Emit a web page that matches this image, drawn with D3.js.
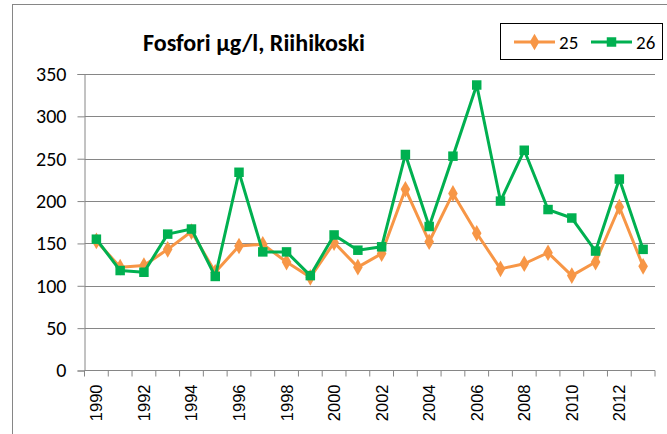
<!DOCTYPE html>
<html>
<head>
<meta charset="utf-8">
<script src="https://cdn.jsdelivr.net/npm/d3@7"></script>
<style>
  body { margin: 0; background: #fff; }
  svg { display: block; }
</style>
</head>
<body>
<svg id="chart"></svg>
<script>
// chart size
var width = 667;
var height = 434;

// data
const years = d3.range(1990, 2014);
const yearLabels = years.map(y => y % 2 == 0 ? String(y) : '');
const series25 = [153, 122, 124, 143, 164, 116, 147, 149, 128, 110, 151, 122, 138, 214, 152, 209, 162, 120, 126, 139, 112, 128, 193, 123];
const series26 = [155, 118, 116, 161, 167, 111, 234, 140, 140, 112, 160, 142, 146, 255, 170, 253, 337, 200, 260, 190, 180, 141, 226, 143];
const yTicks = [0, 50, 100, 150, 200, 250, 300, 350];
const seriesNames = ['25', '26'];

const calibri = 'Carlito, Calibri, Lato, sans-serif';
const gridColor = '#868686';
const orange = '#F79646';
const green = '#00B050';

let svg = d3.select('#chart').attr('width', width).attr('height', height);

// outer chart frame
svg.append('rect')
    .attr('x', 12.5).attr('y', 4.5)
    .attr('width', 700).attr('height', 500)
    .attr('fill', 'none').attr('stroke', gridColor).attr('stroke-width', 1);

let plot = { left: 84.5, right: 655, top: 74, bottom: 370.5 };

let x = d3.scaleBand().domain(years).range([plot.left, plot.right]);
let y = d3.scaleLinear().domain([0, 350]).range([plot.bottom, plot.top]);

// gridlines
svg.append('g')
    .selectAll('line')
    .data(yTicks.filter(d => d > 0))
    .enter()
    .append('line')
    .attr('x1', plot.left).attr('x2', plot.right)
    .attr('y1', d => Math.round(y(d)) + 0.5).attr('y2', d => Math.round(y(d)) + 0.5)
    .attr('stroke', gridColor).attr('stroke-width', 1);

// y axis
let yAxis = svg.append('g')
    .attr('transform', 'translate(' + plot.left + ',0)')
    .call(d3.axisLeft(y).tickValues(yTicks).tickSize(7).tickPadding(11));
yAxis.select('.domain').attr('stroke', gridColor);
yAxis.selectAll('.tick line').attr('stroke', gridColor);
yAxis.selectAll('.tick text')
    .attr('fill', '#000')
    .style('font-family', calibri)
    .style('font-size', '20px');

// x axis: ticks between categories
let xAxis = svg.append('g')
    .attr('transform', 'translate(0,' + plot.bottom + ')');
xAxis.append('line')
    .attr('x1', plot.left).attr('x2', plot.right)
    .attr('stroke', gridColor);
xAxis.selectAll('line.tk')
    .data(years.concat(['end']))
    .enter()
    .append('line')
    .attr('class', 'tk')
    .attr('x1', d => d == 'end' ? plot.right : x(d))
    .attr('x2', d => d == 'end' ? plot.right : x(d))
    .attr('y1', 0).attr('y2', 6)
    .attr('stroke', gridColor);
xAxis.selectAll('text')
    .data(years.filter((d, i) => yearLabels[i] != ''))
    .enter()
    .append('text')
    .attr('transform', d => 'translate(' + (x(d) + x.bandwidth() / 2 + 6) + ',14) rotate(-90)')
    .attr('text-anchor', 'end')
    .style('font-family', '"Liberation Sans", Arial, sans-serif')
    .style('font-size', '16.5px')
    .text(d => yearLabels[years.indexOf(d)]);

// lines
let line = d3.line()
    .x((d, i) => x(years[i]) + x.bandwidth() / 2)
    .y(d => y(d));

function drawSeries(data, color, shape, size) {
    svg.append('path')
        .datum(data)
        .attr('d', line)
        .attr('fill', 'none')
        .attr('stroke', color)
        .attr('stroke-width', 3)
        .attr('stroke-linejoin', 'round');
    svg.append('g')
        .selectAll('path')
        .data(data)
        .enter()
        .append('path')
        .attr('transform', (d, i) => 'translate(' + (x(years[i]) + x.bandwidth() / 2) + ',' + y(d) + ')')
        .attr('d', d3.symbol().type(shape).size(size))
        .attr('fill', color);
}

drawSeries(series25, orange, d3.symbolDiamond, 80);
drawSeries(series26, green, d3.symbolSquare, 90);

// title, sized so it spans about 222px like the original
let title = svg.append('text')
    .attr('x', 143).attr('y', 51)
    .style('font-family', calibri)
    .style('font-weight', 'bold')
    .style('font-size', '20px')
    .text('Fosfori µg/l, Riihikoski');
let tw = title.node().getComputedTextLength();
if (tw > 0) {
    let fs = Math.max(19, Math.min(25, 20 * 222 / tw));
    title.style('font-size', fs + 'px');
}

// legend
let legend = svg.append('g');
legend.append('rect')
    .attr('x', 500.5).attr('y', 23.5)
    .attr('width', 162).attr('height', 36)
    .attr('fill', '#fff').attr('stroke', '#000').attr('stroke-width', 1);

let legendItems = [
    { name: seriesNames[0], color: orange, shape: d3.symbolDiamond, size: 80, x0: 514 },
    { name: seriesNames[1], color: green, shape: d3.symbolSquare, size: 90, x0: 591 }
];
legendItems.forEach(item => {
    legend.append('line')
        .attr('x1', item.x0).attr('x2', item.x0 + 41)
        .attr('y1', 42).attr('y2', 42)
        .attr('stroke', item.color).attr('stroke-width', 3);
    legend.append('path')
        .attr('transform', 'translate(' + (item.x0 + 20.5) + ',42)')
        .attr('d', d3.symbol().type(item.shape).size(item.size))
        .attr('fill', item.color);
    legend.append('text')
        .attr('x', item.x0 + 45).attr('y', 49)
        .style('font-family', calibri)
        .style('font-size', '19px')
        .text(item.name);
});
</script>
</body>
</html>
